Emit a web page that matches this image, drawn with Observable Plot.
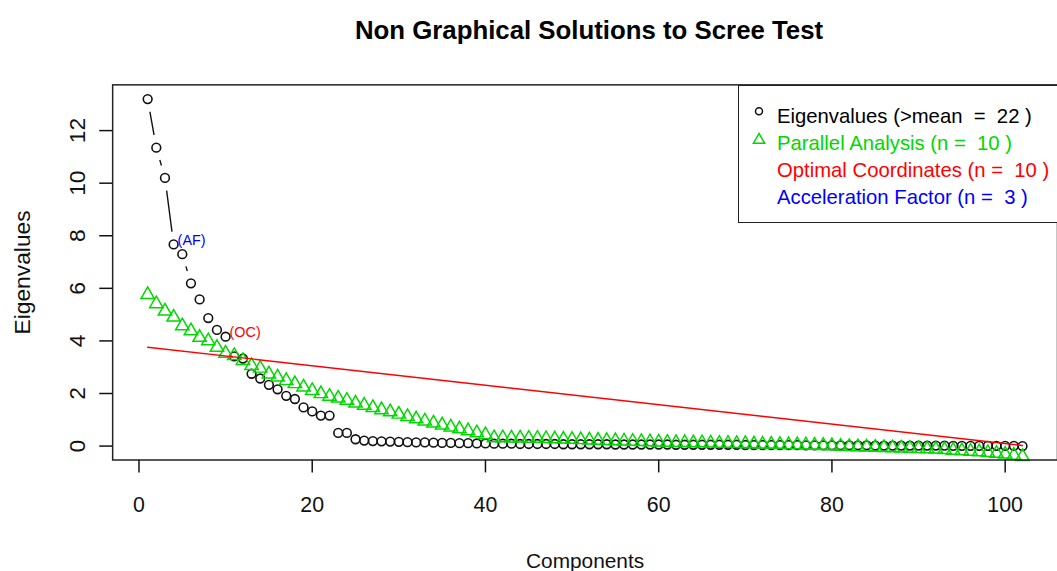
<!DOCTYPE html>
<html><head><meta charset="utf-8">
<script src="https://cdn.jsdelivr.net/npm/d3@7"></script>
<script src="https://cdn.jsdelivr.net/npm/@observablehq/plot@0.6"></script>
<style>
html,body{margin:0;padding:0;background:#fff;overflow:hidden;width:1057px;height:571px;}
#wrap{position:relative;width:1057px;height:571px;overflow:hidden;font-family:"Liberation Sans",Arial,sans-serif;}
#chart{position:absolute;left:0;top:0;}
#title{position:absolute;left:113px;width:952px;top:18px;text-align:center;font-weight:bold;font-size:25.8px;line-height:1;color:#000;white-space:pre;}
#legend{position:absolute;left:738px;top:85px;width:340px;height:138px;border:1.5px solid #222;background:#fff;box-sizing:border-box;}
#legend .li{position:absolute;left:38px;font-size:20.3px;line-height:1;white-space:pre;}
#legend svg{position:absolute;left:0;top:0;}
</style>
</head><body>
<div id="wrap">
  <div id="chart"></div>
  <div id="title"></div>
  <div id="legend"></div>
</div>
<script>
// ---- data ----
const eigenvalues = [13.2, 11.35, 10.2, 7.67, 7.3, 6.19, 5.58, 4.87, 4.42, 4.16,
  3.41, 3.33, 2.75, 2.57, 2.33, 2.16, 1.91, 1.79, 1.47, 1.32,
  1.16, 1.16, 0.50, 0.50, 0.26, 0.21, 0.19, 0.18, 0.17, 0.16,
  0.15, 0.14, 0.14, 0.13, 0.12, 0.12, 0.11, 0.11, 0.10, 0.10,
  0.09, 0.09, 0.09, 0.08, 0.08, 0.08, 0.08, 0.08, 0.07, 0.07,
  0.07, 0.07, 0.07, 0.07, 0.06, 0.06, 0.06, 0.06, 0.06, 0.06,
  0.06, 0.05, 0.05, 0.05, 0.05, 0.05, 0.05, 0.05, 0.05, 0.04,
  0.04, 0.04, 0.04, 0.04, 0.04, 0.04, 0.03, 0.03, 0.03, 0.03,
  0.03, 0.03, 0.03, 0.03, 0.02, 0.02, 0.02, 0.02, 0.02, 0.02,
  0.02, 0.02, 0.02, 0.01, 0.01, 0.01, 0.01, 0.01, 0.01, 0.01,
  0.01, 0.00];
const parallel = [5.76, 5.41, 5.13, 4.90, 4.57, 4.38, 4.13, 4.00, 3.75, 3.53,
  3.44, 3.25, 3.06, 2.96, 2.74, 2.62, 2.49, 2.37, 2.24, 2.11,
  1.99, 1.89, 1.82, 1.74, 1.63, 1.55, 1.46, 1.38, 1.30, 1.21,
  1.12, 1.03, 0.95, 0.87, 0.80, 0.72, 0.65, 0.58, 0.50, 0.43,
  0.31, 0.31, 0.30, 0.30, 0.29, 0.29, 0.28, 0.27, 0.26, 0.25,
  0.24, 0.23, 0.22, 0.21, 0.20, 0.19, 0.18, 0.17, 0.16, 0.15,
  0.14, 0.13, 0.13, 0.12, 0.12, 0.11, 0.10, 0.10, 0.09, 0.09,
  0.08, 0.07, 0.07, 0.06, 0.05, 0.05, 0.04, 0.03, 0.02, 0.01,
  -0.01, -0.02, -0.03, -0.04, -0.05, -0.06, -0.07, -0.08, -0.09, -0.10,
  -0.11, -0.12, -0.14, -0.16, -0.18, -0.20, -0.22, -0.25, -0.28, -0.31,
  -0.35, -0.40];
const ocComponents = [1, 102];
const ocValues = [3.76, 0.02];
const annComponents = [4, 10];
const annTexts = ["(AF)", "(OC)"];
const annColors = ["#0000ff", "#ff0000"];
const xTicks = [0, 20, 40, 60, 80, 100];
const yTicks = [0, 2, 4, 6, 8, 10, 12];
const titleText = "Non Graphical Solutions to Scree Test";
const xLabel = "Components";
const yLabel = "Eigenvalues";
const legendLabels = ["Eigenvalues (>mean  =  22 )", "Parallel Analysis (n =  10 )", "Optimal Coordinates (n =  10 )", "Acceleration Factor (n =  3 )"];
const legendColors = ["#000000", "#00d800", "#ff0000", "#0000ff"];

// ---- derived tables ----
const eigData = eigenvalues.map((v, i) => ({comp: i + 1, value: v}));
const paData = parallel.map((v, i) => ({comp: i + 1, value: v}));
const ocData = ocComponents.map((c, i) => ({comp: c, value: ocValues[i]}));
const annData = annComponents.map((c, i) => ({comp: c, value: eigenvalues[c - 1], text: annTexts[i], color: annColors[i]}));

const GREEN = legendColors[1];

const chart = Plot.plot({
  width: 1065, height: 571,
  marginLeft: 113, marginRight: 0, marginTop: 85, marginBottom: 108,
  x: {domain: [-3.04, 106.04]},
  y: {domain: [-0.53, 13.74]},
  style: {fontFamily: "'Liberation Sans', Arial, sans-serif", fontSize: "21.5px", color: "#111", background: "transparent", overflow: "visible"},
  marks: [
    Plot.line(eigData, {x: "comp", y: "value", stroke: "#111", strokeWidth: 1.4}),
    Plot.dot(eigData, {x: "comp", y: "value", r: 13, fill: "white", stroke: null}),
    Plot.dot(eigData, {x: "comp", y: "value", r: 4.4, stroke: "#111", strokeWidth: 1.6, fill: "none"}),
    Plot.dot(paData, {x: "comp", y: "value", symbol: "triangle", r: 5, stroke: GREEN, strokeWidth: 1.5, fill: "none"}),
    Plot.line(ocData, {x: "comp", y: "value", stroke: "#ff0000", strokeWidth: 1.4}),
    Plot.text(annData, {x: "comp", y: "value", text: "text", fill: "color", textAnchor: "start", dx: 4, dy: -4, fontSize: 14.5}),
    Plot.axisX({ticks: xTicks, tickSize: 13, tickPadding: 24, label: null, tickFormat: d => String(d), strokeWidth: 1.5}),
    Plot.axisY({ticks: yTicks, tickSize: 13, tickPadding: 15, tickRotate: -90, label: null, fontSize: 23, tickFormat: d => String(d), strokeWidth: 1.5}),
    Plot.text([xLabel], {text: d => d, frameAnchor: "bottom", lineAnchor: "middle", textAnchor: "middle", dy: 102, fill: "#111", fontSize: 21}),
    Plot.text([yLabel], {text: d => d, frameAnchor: "left", lineAnchor: "middle", textAnchor: "middle", dx: -90.5, rotate: -90, fill: "#111", fontSize: 23}),
    Plot.frame({stroke: "#222", strokeWidth: 1.5})
  ]
});
document.getElementById("chart").appendChild(chart);
document.getElementById("title").textContent = titleText;

// legend
const legend = document.getElementById("legend");
const tops = [106, 133.2, 160.4, 187.6];
legendLabels.forEach((lab, i) => {
  const d = document.createElement("div");
  d.className = "li";
  d.style.top = (tops[i] - 86.5) + "px";
  d.style.color = legendColors[i];
  d.textContent = lab;
  legend.appendChild(d);
});
const sym = d3.create("svg").attr("width", 40).attr("height", 80);
sym.append("circle").attr("cx", 20).attr("cy", 25.2).attr("r", 3.5).attr("fill", "none").attr("stroke", "#111").attr("stroke-width", 1.5);
sym.append("path").attr("d", d3.symbol(d3.symbolTriangle, 55)()).attr("transform", "translate(20,54)").attr("fill", "none").attr("stroke", GREEN).attr("stroke-width", 1.5);
legend.appendChild(sym.node());
</script>
</body></html>
